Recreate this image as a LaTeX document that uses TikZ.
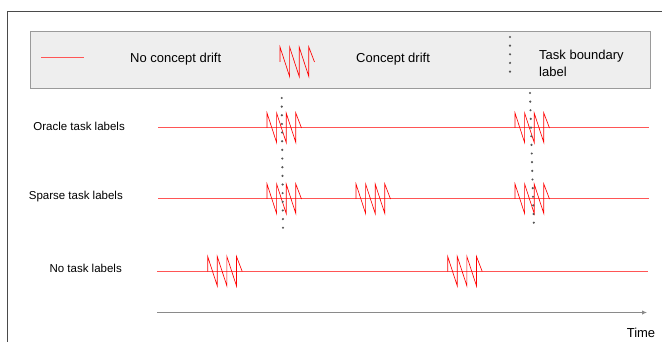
\documentclass[tikz,border=0pt]{standalone}
\usepackage{fontspec}
\setmainfont{Liberation Sans}
\usetikzlibrary{arrows.meta}
\definecolor{framegray}{HTML}{4A4A4A}
\definecolor{legendfill}{HTML}{EEEEEE}
\definecolor{legenddraw}{HTML}{9A9A9A}
\definecolor{dotgray}{HTML}{555555}
\definecolor{axisgray}{HTML}{8A8A8A}
\definecolor{flowred}{HTML}{FF5555}
\tikzset{
    legend-box/.style = {draw=legenddraw, fill=legendfill, line width=0.9pt},
    legend-text/.style = {font=\fontsize{13}{17}\selectfont, anchor=west, inner sep=0pt, align=left},
    row-label/.style = {font=\fontsize{11.5}{13}\selectfont, anchor=east, inner sep=0pt},
    no-drift/.style = {draw=flowred, line width=1pt},
    boundary/.style = {draw=dotgray, line width=2.4pt, line cap=round, dash pattern=on 0pt off 8.65pt},
    drift-zigzag/.pic = {
        \draw[red, line width=0.65pt] (0,0) -- (0,-15) -- (9.6,14.5) -- (9.6,-15) -- (19.2,14.5)
            -- (19.2,-15) -- (28.8,14.5) -- (28.8,-15) -- (34.5,0);
    },
}
\begin{document}
\begin{tikzpicture}[x=1pt, y=-1pt]
\useasboundingbox (0,0) rectangle (662,342);
% outer frame, cut by the page
\draw[framegray, line width=0.9pt] (662,11) -- (7,11) -- (7,342);

% legend
\draw[legend-box] (30,31) rectangle (650,88);
\coordinate (key-a) at (41,58);
\coordinate (key-b) at (84,58);
\draw[no-drift] (key-a) -- (key-b);
\node[legend-text] (key-nodrift) at (130,59) {No concept drift};
\pic at (280,62) {drift-zigzag};
\node[legend-text] (key-drift) at (356,59) {Concept drift};
\coordinate (key-top) at (510,37);
\coordinate (key-bot) at (510,72);
\draw[boundary] (key-top) -- (key-bot);
\node[legend-text] (key-boundary) at (539,63) {Task boundary\\label};

% rows
\node[row-label] (oracle) at (125,126) {Oracle task labels};
\node[row-label] (sparse) at (123,197) {Sparse task labels};
\node[row-label] (none) at (122,268) {No task labels};

\coordinate (oracle-start) at (158,128);
\coordinate (oracle-end) at (649,128);
\coordinate (sparse-start) at (158,199);
\coordinate (sparse-end) at (649,199);
\coordinate (none-start) at (157,271.5);
\coordinate (none-end) at (648,271.5);
\draw[no-drift] (oracle-start) -- (oracle-end);
\draw[no-drift] (sparse-start) -- (sparse-end);
\draw[no-drift] (none-start) -- (none-end);

\foreach \x in {267,515} {
    \pic at (\x,128) {drift-zigzag};
}
\foreach \x in {267,356,515} {
    \pic at (\x,199) {drift-zigzag};
}
\foreach \x in {207.7,447.7} {
    \pic at (\x,271.5) {drift-zigzag};
}

% task boundaries
\coordinate (bound1-top) at (281.7,98);
\coordinate (bound1-bot) at (283,228);
\coordinate (bound2-top) at (530,93);
\coordinate (bound2-bot) at (534,231);
\draw[boundary] (bound1-top) -- (bound1-bot);
\draw[boundary] (bound2-top) -- (bound2-bot);

% time axis
\coordinate (time-start) at (157,312.5);
\coordinate (time-end) at (647,312.5);
\draw[axisgray, line width=0.9pt, -{Latex[length=5pt, width=4.5pt]}] (time-start) -- (time-end);
\node[font=\fontsize{13}{15}\selectfont, inner sep=0pt] (time) at (641,333) {Time};
\end{tikzpicture}
\end{document}
